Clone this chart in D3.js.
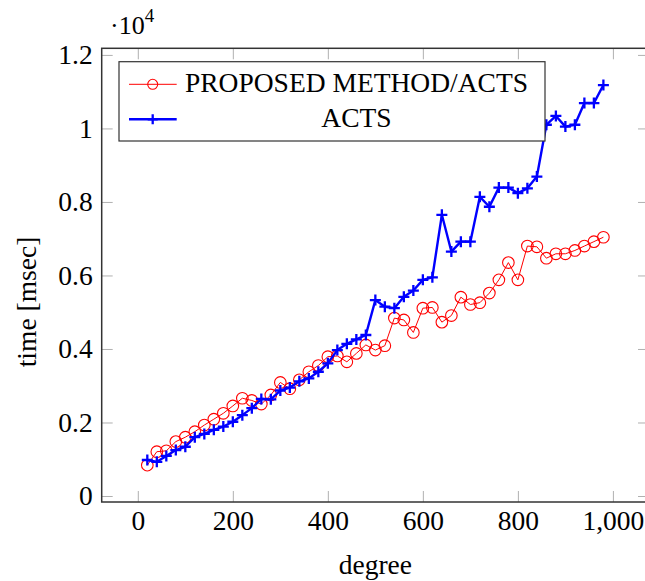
<!DOCTYPE html>
<html>
<head>
<meta charset="utf-8">
<script src="https://cdn.jsdelivr.net/npm/d3@7"></script>
<style>
  html, body { margin: 0; padding: 0; background: #fff; }
  svg { display: block; }
  text { font-family: "Liberation Serif", "DejaVu Serif", serif; fill: #000; }
</style>
</head>
<body>
<svg id="chart" width="645" height="581"></svg>
<script>
// Degree of the test instance
const degrees = [20, 40, 60, 80, 100, 120, 140, 160, 180, 200,
                 220, 240, 260, 280, 300, 320, 340, 360, 380, 400,
                 420, 440, 460, 480, 500, 520, 540, 560, 580, 600,
                 620, 640, 660, 680, 700, 720, 740, 760, 780, 800,
                 820, 840, 860, 880, 900, 920, 940, 960, 980];

// Run time in milliseconds
const proposedTimes = [840, 1205, 1230, 1480, 1600, 1750, 1930, 2090, 2250, 2450,
                       2660, 2600, 2500, 2750, 3090, 2920, 3160, 3380, 3550, 3790,
                       3810, 3650, 3880, 4110, 3970, 4090, 4840, 4790, 4450, 5110,
                       5130, 4730, 4910, 5410, 5210, 5260, 5520, 5880, 6350, 5880,
                       6800, 6780, 6470, 6590, 6590, 6680, 6800, 6920, 7040];

const actsTimes = [980, 930, 1090, 1250, 1340, 1600, 1690, 1800, 1890, 2020,
                   2200, 2390, 2640, 2630, 2870, 2950, 3120, 3200, 3380, 3610,
                   3970, 4140, 4260, 4380, 5330, 5150, 5110, 5420, 5590, 5880,
                   5950, 7650, 6650, 6920, 6920, 8140, 7870, 8390, 8390, 8240,
                   8370, 8690, 10100, 10340, 10050, 10100, 10690, 10690, 11180];

const seriesNames = ["PROPOSED METHOD/ACTS", "ACTS"];
const xTicks = [0, 200, 400, 600, 800, 1000];
const yTicks = [0, 2000, 4000, 6000, 8000, 10000, 12000];
const yTickLabels = ["0", "0.2", "0.4", "0.6", "0.8", "1", "1.2"];

const svg = d3.select("#chart");

const plotLeft = 101.7, plotRight = 649, plotTop = 48.3, plotBottom = 502;
const fontSize = 27.5;

// axis limits widened by 10% of the data range on each side
const xMin = d3.min(degrees), xMax = d3.max(degrees);
const xPad = 0.1 * (xMax - xMin);
const x = d3.scaleLinear().domain([xMin - xPad, xMax + xPad]).range([plotLeft, plotRight]);
const y = d3.scaleLinear().domain([-163, 12180]).range([plotBottom, plotTop]);

const tickLen = 11;
const tickColor = "#b0b0b0";

function styleAxis(g) {
  g.select(".domain").remove();
  g.selectAll(".tick line").attr("stroke", tickColor).attr("stroke-width", 1);
  g.selectAll(".tick text")
    .style("font-family", '"Liberation Serif", serif')
    .style("font-size", fontSize + "px")
    .attr("fill", "#000");
}

// bottom axis with labels
svg.append("g")
  .attr("transform", `translate(0,${plotBottom})`)
  .call(d3.axisBottom(x).tickValues(xTicks).tickSize(-tickLen).tickPadding(8)
        .tickFormat(d3.format(",")))
  .call(styleAxis);

// top axis (ticks only)
svg.append("g")
  .attr("transform", `translate(0,${plotTop})`)
  .call(d3.axisTop(x).tickValues(xTicks).tickSize(-tickLen).tickFormat(""))
  .call(styleAxis);

// left axis with labels
svg.append("g")
  .attr("transform", `translate(${plotLeft},0)`)
  .call(d3.axisLeft(y).tickValues(yTicks).tickSize(-tickLen).tickPadding(9)
        .tickFormat((d, i) => yTickLabels[i]))
  .call(styleAxis);

// right axis (ticks only)
svg.append("g")
  .attr("transform", `translate(${plotRight},0)`)
  .call(d3.axisRight(y).tickValues(yTicks).tickSize(-tickLen).tickFormat(""))
  .call(styleAxis);

// frame
svg.append("rect")
  .attr("x", plotLeft).attr("y", plotTop)
  .attr("width", plotRight - plotLeft).attr("height", plotBottom - plotTop)
  .attr("fill", "none").attr("stroke", "#333").attr("stroke-width", 1.5);

// scale multiplier
const mult = svg.append("text").attr("x", 110).attr("y", 34).style("font-size", "26px");
mult.append("tspan").text("\u00b710");
mult.append("tspan").attr("dy", -12).style("font-size", "19px").text("4");

// axis titles
svg.append("text")
  .attr("x", (plotLeft + plotRight) / 2).attr("y", 574)
  .attr("text-anchor", "middle").style("font-size", fontSize + "px")
  .text("degree");

svg.append("text")
  .attr("transform", `translate(36,302) rotate(-90)`)
  .attr("text-anchor", "middle").style("font-size", fontSize + "px")
  .text("time [msec]");

const line = d3.line();

const series = [
  { name: seriesNames[0], values: proposedTimes, color: "red", width: 1, mark: "o" },
  { name: seriesNames[1], values: actsTimes, color: "blue", width: 2.4, mark: "+" }
];

const plot = svg.append("g");

function drawMark(g, mark, color, cx, cy, size) {
  if (mark === "o") {
    g.append("circle").attr("cx", cx).attr("cy", cy).attr("r", size)
      .attr("fill", "none").attr("stroke", color).attr("stroke-width", 1.1);
  } else {
    g.append("path")
      .attr("d", `M${cx - size},${cy}H${cx + size}M${cx},${cy - size}V${cy + size}`)
      .attr("stroke", color).attr("stroke-width", 2.3).attr("fill", "none");
  }
}

series.forEach(s => {
  const pts = degrees.map((d, i) => [x(d), y(s.values[i])]);
  plot.append("path")
    .attr("d", line(pts))
    .attr("fill", "none").attr("stroke", s.color)
    .attr("stroke-width", s.width).attr("stroke-linejoin", "round");
  const mg = plot.append("g");
  pts.forEach(p => drawMark(mg, s.mark, s.color, p[0], p[1], s.mark === "o" ? 5.8 : 5.5));
});

// legend
const lg = svg.append("g");
lg.append("rect")
  .attr("x", 119).attr("y", 61.7).attr("width", 426).attr("height", 79.3)
  .attr("fill", "#fff").attr("stroke", "#333").attr("stroke-width", 1.2);

series.forEach((s, i) => {
  const cy = 84.3 + i * 35;
  lg.append("line")
    .attr("x1", 129).attr("x2", 176.7).attr("y1", cy).attr("y2", cy)
    .attr("stroke", s.color).attr("stroke-width", s.width);
  drawMark(lg, s.mark, s.color, 152.7, cy, 5);
  lg.append("text")
    .attr("x", 356.5).attr("y", 92 + i * 35)
    .attr("text-anchor", "middle").style("font-size", fontSize + "px")
    .text(s.name);
});
</script>
</body>
</html>
